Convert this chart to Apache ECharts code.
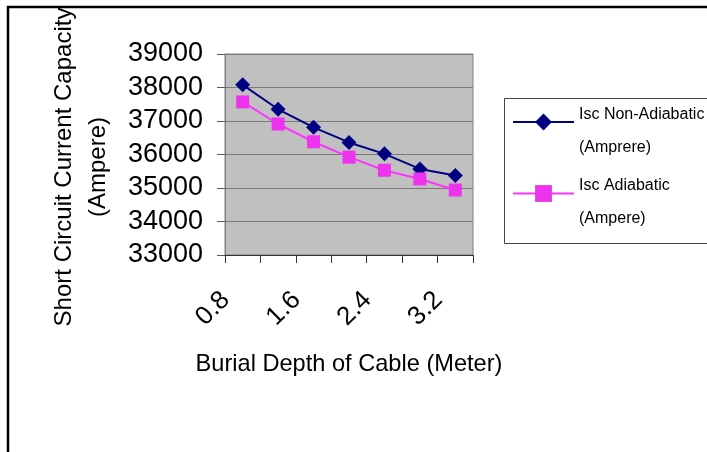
<!DOCTYPE html>
<html>
<head>
<meta charset="utf-8">
<script src="https://cdn.jsdelivr.net/npm/echarts@6/dist/echarts.min.js"></script>
<style>
  html, body { margin: 0; padding: 0; background: #ffffff; }
  #chart { width: 707px; height: 452px; }
</style>
</head>
<body>
<div id="chart"></div>
<script>
// Burial depth of the cable (m)
const depths = ['0.8', '1.2', '1.6', '2.0', '2.4', '2.8', '3.2'];
// Short-circuit current capacity (A)
const iscNonAdiabatic = [38080, 37350, 36810, 36360, 36020, 35570, 35370];
const iscAdiabatic = [37570, 36910, 36380, 35920, 35530, 35270, 34940];
const seriesNames = ['Isc Non-Adiabatic\n(Amprere)', 'Isc Adiabatic\n(Ampere)'];
const yMin = 33000, yMax = 39000, yStep = 1000;

const FONT = '"Liberation Sans", Arial, sans-serif';
const chart = echarts.init(document.getElementById('chart'), null, { renderer: 'canvas' });

chart.setOption({
  animation: false,
  backgroundColor: '#ffffff',
  textStyle: { fontFamily: FONT, color: '#000' },
  grid: {
    left: 225, top: 54, width: 248, height: 201,
    outerBoundsMode: 'none',
    containLabel: false,
    show: true, backgroundColor: '#c0c0c0', borderColor: '#808080', borderWidth: 1
  },
  graphic: [
    { type: 'rect', shape: { x: 8, y: 7, width: 720, height: 470 },
      style: { fill: null, stroke: '#000', lineWidth: 2.5 }, z: 0 },
    { type: 'rect', shape: { x: 504.5, y: 98.5, width: 230, height: 145 },
      style: { fill: '#fff', stroke: '#444', lineWidth: 1 }, z: 0 }
  ],
  legend: {
    orient: 'vertical',
    left: 512, top: 84,
    padding: 0,
    itemWidth: 61, itemHeight: 21, itemGap: 0,
    z: 5,
    formatter: function (name) {
      // spacer line keeps the key beside the first line of the two-line name
      return '{g| }\n' + name.split('\n').map(function (l) { return '{t|' + l + '}'; }).join('\n');
    },
    textStyle: {
      fontFamily: FONT, fontSize: 16, color: '#000',
      rich: {
        g: { fontSize: 10, lineHeight: 18 },
        t: { fontFamily: FONT, fontSize: 16, lineHeight: 33, color: '#000' }
      }
    },
    data: seriesNames
  },
  xAxis: {
    type: 'category',
    data: depths,
    boundaryGap: true,
    name: 'Burial Depth of Cable (Meter)',
    nameLocation: 'middle',
    nameGap: 97,
    nameTextStyle: { fontFamily: FONT, fontSize: 23.6, color: '#000' },
    axisLine: { lineStyle: { color: '#333', width: 1 } },
    axisTick: { show: true, interval: 0, length: 8, lineStyle: { color: '#333' } },
    axisLabel: { interval: 1, rotate: 45, margin: 24, padding: [0, 24, 0, 0],
      fontFamily: FONT, fontSize: 26, color: '#000' },
    splitLine: { show: false }
  },
  yAxis: {
    type: 'value',
    min: yMin, max: yMax, interval: yStep,
    name: 'Short Circuit Current Capacity\n(Ampere)',
    nameLocation: 'middle',
    nameGap: 110,
    nameTextStyle: { fontFamily: FONT, fontSize: 24, color: '#000', lineHeight: 34, padding: [0, 25, 0, 0] },
    axisLine: { show: true, lineStyle: { color: '#808080', width: 1 } },
    axisTick: { show: true, length: 8, lineStyle: { color: '#555' } },
    axisLabel: { margin: 22, fontFamily: FONT, fontSize: 27, color: '#000',
      formatter: function (v) { return String(v); } },
    splitLine: { show: true, lineStyle: { color: '#7a7a7a', width: 1 } }
  },
  series: [
    {
      name: seriesNames[0], type: 'line', data: iscNonAdiabatic,
      symbol: 'diamond', symbolSize: 15,
      lineStyle: { color: '#000080', width: 2 },
      itemStyle: { color: '#000080' }
    },
    {
      name: seriesNames[1], type: 'line', data: iscAdiabatic,
      symbol: 'rect', symbolSize: 13,
      lineStyle: { color: '#ff33ff', width: 2 },
      itemStyle: { color: '#ee33ee' }
    }
  ]
});
</script>
</body>
</html>
